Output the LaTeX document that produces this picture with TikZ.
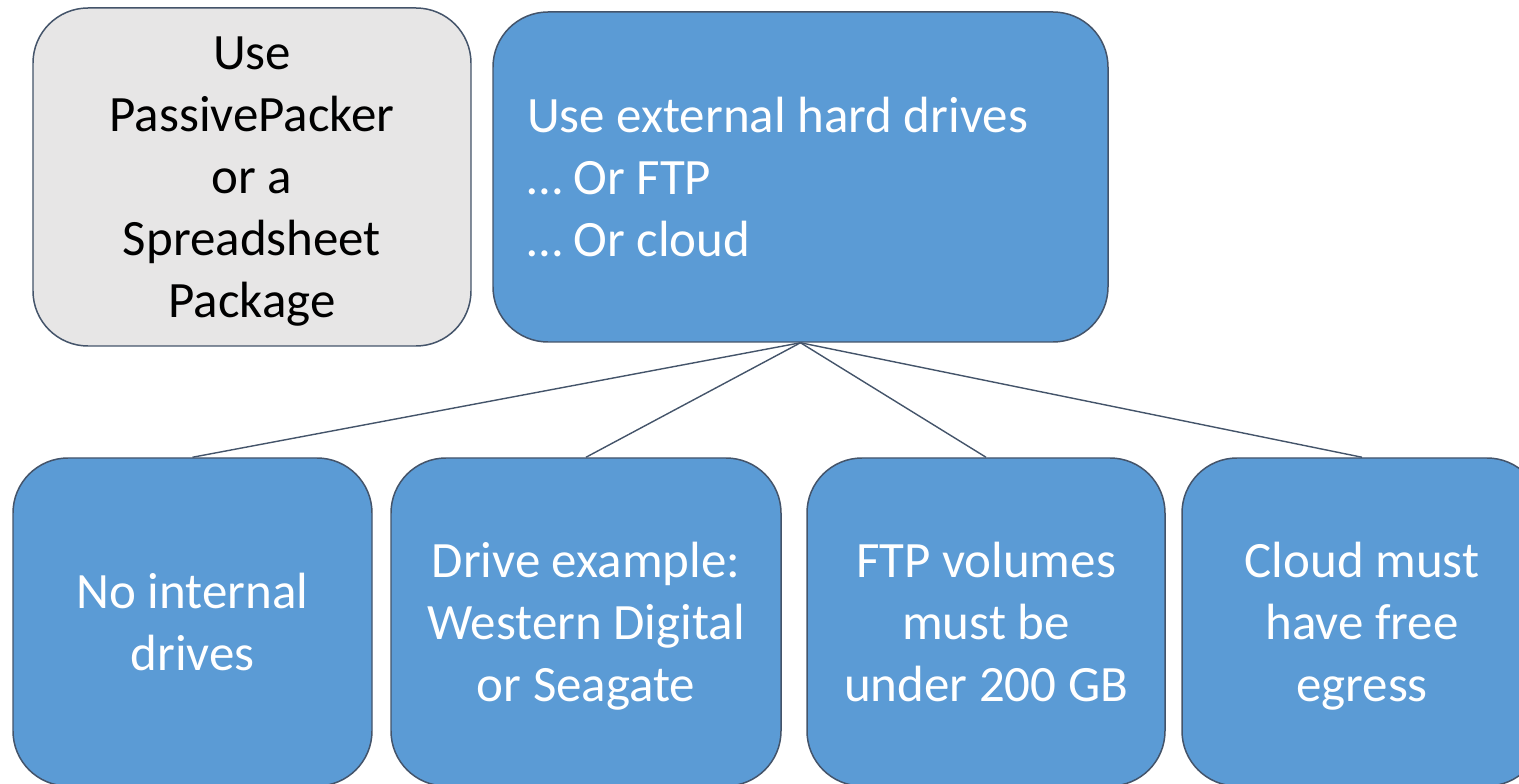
\documentclass[tikz,border=0pt]{standalone}
\usepackage{fontspec}
\setmainfont{Carlito}
\usetikzlibrary{positioning}
\definecolor{officeblue}{HTML}{5B9BD5}
\definecolor{lightgraybox}{HTML}{E7E6E6}
\definecolor{slateline}{HTML}{44546A}

\begin{document}
\begin{tikzpicture}[
    font=\fontsize{29}{35.3}\selectfont,
    box/.style={draw=slateline, line width=0.85pt, rounded corners=1.1cm, inner sep=0pt,
                align=center, text depth=0pt},
    bluebox/.style={box, fill=officeblue, text=white},
    graybox/.style={box, fill=lightgraybox, text=black},
    link/.style={slateline, line width=0.8pt}
]

% -------- page frame (1519 x 784 px, 1px = 0.02cm) --------
\useasboundingbox (0,0) rectangle (30.38,-15.68);

% ================================================================
% TOP ROW
% ================================================================
\node[graybox, minimum width=8.76cm, minimum height=6.76cm] (tool) at (5.04,-3.54)
    {Use\\PassivePacker\\or a\\Spreadsheet\\Package};

\node[bluebox, minimum width=12.30cm, minimum height=6.60cm, inner xsep=0.68cm,
      text width=10.94cm, align=flush left, text depth={}] (media) at (16.01,-3.54)
    {Use external hard drives\\\ldots{} Or FTP\\\ldots{} Or cloud};

% ================================================================
% BOTTOM ROW: one box per rule
% ================================================================
\node[bluebox, minimum width=7.18cm, minimum height=6.56cm] (internal) at (3.85,-12.44)
    {No internal\\drives};
\node[bluebox, minimum width=7.80cm, minimum height=6.56cm] (brand) at (11.72,-12.44)
    {Drive example:\\Western Digital\\or Seagate};
\node[bluebox, minimum width=7.16cm, minimum height=6.56cm] (ftp) at (19.72,-12.44)
    {FTP volumes\\must be\\under 200 GB};
\node[bluebox, minimum width=7.20cm, minimum height=6.56cm] (cloud) at (27.24,-12.44)
    {Cloud must\\have free\\egress};

% fan-out from the media box
\foreach \leaf in {internal,brand,ftp,cloud}{
    \draw[link] (media.south) -- (\leaf.north);
}

\end{tikzpicture}
\end{document}
